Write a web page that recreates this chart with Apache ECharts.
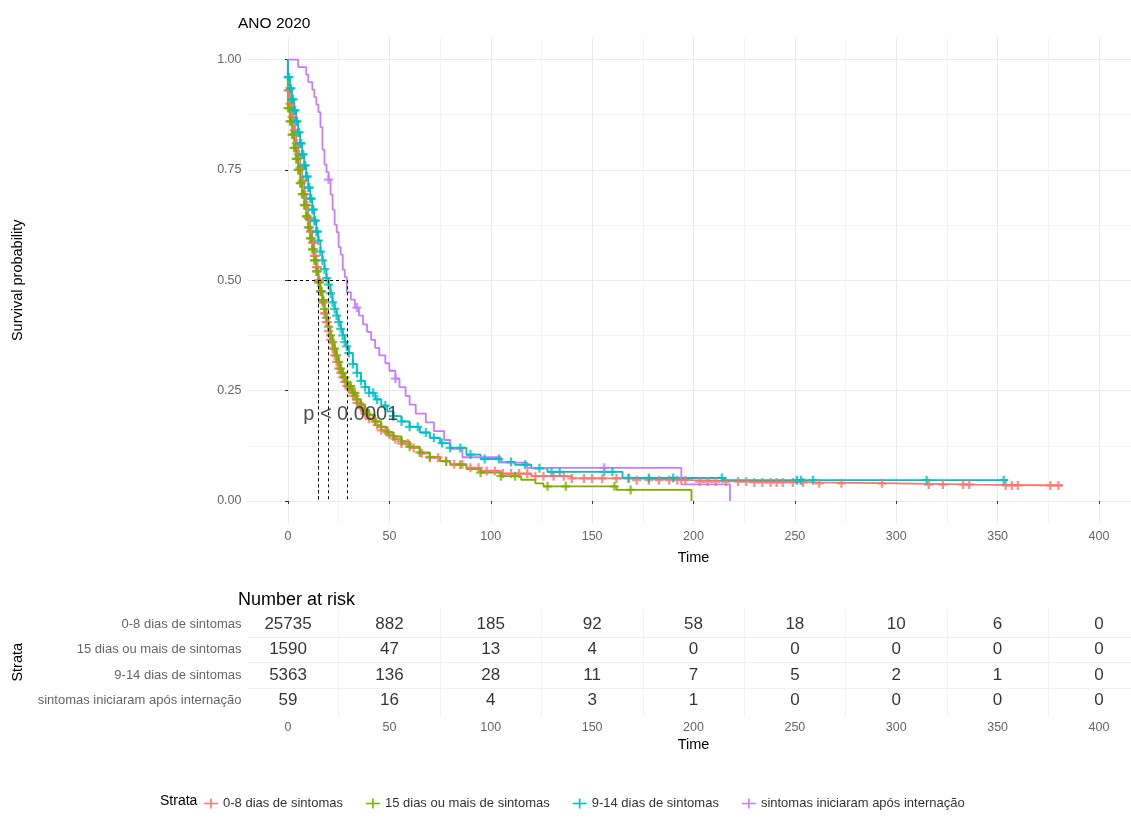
<!DOCTYPE html>
<html><head><meta charset="utf-8">
<script src="https://cdn.jsdelivr.net/npm/echarts@6/dist/echarts.min.js"></script>
<style>html,body{margin:0;padding:0;background:#fff}#c{width:1131px;height:818px}</style>
</head><body><div id="c"></div><script>
// ---------- DATA ----------
const strata = ['0-8 dias de sintomas','15 dias ou mais de sintomas','9-14 dias de sintomas','sintomas iniciaram após internação'];
const colors = ['#F8766D','#7CAE00','#00BFC4','#C77CFF'];

const redTime = [0,0,1,2,3,4,5,6,7,8,9,10,11,12,13,14,15,16,17,18,19,20,21,22,23,24,25,26,27,28,29,30,32,34,36,38,40,43,46,49,52,56,60,65,70,75,80,88,95,105,120,140,170,200,230,260,300,340,382];
const redSurv = [1,0.93,0.90,0.87,0.84,0.81,0.785,0.755,0.725,0.695,0.67,0.64,0.61,0.585,0.555,0.53,0.50,0.475,0.45,0.425,0.405,0.385,0.365,0.345,0.33,0.315,0.30,0.29,0.28,0.27,0.26,0.255,0.238,0.222,0.21,0.197,0.186,0.172,0.16,0.15,0.14,0.13,0.12,0.108,0.098,0.09,0.083,0.075,0.068,0.062,0.056,0.051,0.047,0.044,0.042,0.04,0.037,0.035,0.034];

const greenTime = [0,0,1,2,3,4,5,6,7,8,9,10,11,12,13,14,15,16,17,18,19,20,21,22,23,24,25,26,27,28,29,30,32,34,36,38,40,43,46,49,52,56,60,65,70,75,80,88,95,105,115,122,126,162,199];
const greenSurv = [1,0.89,0.86,0.83,0.80,0.775,0.75,0.72,0.695,0.67,0.645,0.62,0.595,0.57,0.545,0.52,0.495,0.475,0.455,0.435,0.415,0.395,0.375,0.36,0.345,0.33,0.315,0.30,0.29,0.28,0.27,0.26,0.245,0.23,0.218,0.206,0.195,0.18,0.168,0.156,0.146,0.135,0.123,0.11,0.10,0.09,0.082,0.072,0.064,0.056,0.048,0.04,0.033,0.025,0];

const tealTime = [0,0,1,2,3,4,5,6,7,8,9,10,11,12,13,14,15,16,17,18,19,20,21,22,23,24,25,26,27,28,29,30,32,34,36,38,40,43,46,49,52,56,60,65,70,75,80,88,95,105,112,120,128,165,215,355];
const tealSurv = [1,0.96,0.935,0.91,0.885,0.86,0.835,0.81,0.785,0.76,0.735,0.71,0.685,0.66,0.635,0.61,0.59,0.565,0.545,0.525,0.505,0.49,0.47,0.45,0.435,0.42,0.405,0.39,0.375,0.36,0.35,0.335,0.31,0.29,0.272,0.258,0.245,0.23,0.216,0.203,0.192,0.18,0.168,0.155,0.143,0.131,0.12,0.105,0.095,0.088,0.082,0.074,0.066,0.052,0.047,0.047];

const purpleTime = [0,5,9,10,12,13,14,15,16,17,18,19,20,21,22,23,24,25,26,27,28,29,31,33,35,37,39,41,43,45,48,50,53,55,58,60,63,68,72,77,80,86,105,118,194,218];
const purpleSurv = [1,0.983,0.966,0.949,0.932,0.915,0.898,0.881,0.847,0.796,0.762,0.745,0.728,0.694,0.66,0.626,0.609,0.575,0.558,0.524,0.507,0.473,0.456,0.438,0.42,0.40,0.383,0.365,0.347,0.33,0.312,0.295,0.277,0.258,0.238,0.218,0.198,0.178,0.158,0.138,0.118,0.099,0.087,0.075,0.0375,0];

// censoring times
const redCens = [0,0.5,1,1.5,2,2.5,3,3.5,4,4.5,5,5.5,6,6.5,7,7.5,8,8.5,9,9.5,10,10.5,11,11.5,12,12.5,13,13.5,14,14.5,15,15.5,16,16.5,17,17.5,18,18.5,19,19.5,20,21,22,23,24,25,26,27,28,29,30,31,32,33,34,35,36,37,38,39,40,42,44,46,48,50,53,56,59,62,66,70,74,78,82,86,90,94,98,102,106,110,114,118,122,126,131,136,140,146,150,155,162,168,172,178,183,188,192,196,203,207,211,216,222,226,230,234,238,241,244,249,254,262,273,293,316,323,333,336,354,357,360,376,380];
const greenCens = [0,0.5,1,1.5,2,2.5,3,3.5,4,4.5,5,5.5,6,6.5,7,7.5,8,8.5,9,9.5,10,10.5,11,11.5,12,12.5,13,13.5,14,14.5,15,15.5,16,16.5,17,17.5,18,19,20,21,22,23,24,25,26,27,28,29,30,31,32,33,34,36,38,40,43,46,49,52,56,60,65,70,78,85,95,105,112,128,137,161,169];
const tealCens = [0,0.5,1,1.5,2,2.5,3,3.5,4,4.5,5,5.5,6,6.5,7,7.5,8,8.5,9,9.5,10,10.5,11,11.5,12,12.5,13,13.5,14,14.5,15,16,17,18,19,20,21,22,23,24,25,26,27,28,29,30,32,34,36,38,40,42,44,48,52,56,60,64,68,72,76,80,85,90,97,104,110,117,124,130,134,156,160,168,178,190,214,251,253,259,315,353];
const purpleCens = [20,34,53,156];

const medians = [15,15,20,29];
const pvalText = 'p < 0.0001';

// risk table
const riskTimes = [0,50,100,150,200,250,300,350,400];
const risk08 = [25735,882,185,92,58,18,10,6,0];
const risk15 = [1590,47,13,4,0,0,0,0,0];
const risk914 = [5363,136,28,11,7,5,2,1,0];
const riskApos = [59,16,4,3,1,0,0,0,0];

// ---------- BUILD ----------
const FONT = "'Liberation Sans', Arial, sans-serif";
const curves = [[redTime,redSurv],[greenTime,greenSurv],[tealTime,tealSurv],[purpleTime,purpleSurv]];
const cens = [redCens,greenCens,tealCens,purpleCens];
const risks = [risk08,risk15,risk914,riskApos];
function stepAt(T,S,c){let v=S[0];for(let i=0;i<T.length;i++){if(T[i]<=c)v=S[i];else break;}return v;}
const plus = 'path://M3,0H5V3H8V5H5V8H3V5H0V3H3Z';
const legendIcon = 'path://M0,4.2H6.2V0H7.8V4.2H14V5.8H7.8V10H6.2V5.8H0Z';

const series = [];
curves.forEach((c,i)=>{
  series.push({type:'line',name:strata[i],xAxisIndex:1,yAxisIndex:1,step:'end',showSymbol:false,
    color:colors[i],lineStyle:{width:1.8,color:colors[i]},silent:true,z:2,
    data:c[0].map((t,k)=>[t,c[1][k]])});
});
cens.forEach((cs,i)=>{
  const c=curves[i];
  series.push({type:'scatter',name:strata[i],xAxisIndex:1,yAxisIndex:1,symbol:plus,symbolSize:9,
    color:colors[i],itemStyle:{color:colors[i]},silent:true,z:3,
    data:cs.map(t=>[t,stepAt(c[0],c[1],t)])});
});
const maxMed = Math.max(...medians);
const medLines = [[{coord:[0,0.5]},{coord:[maxMed,0.5]}]];
medians.forEach(m=>medLines.push([{coord:[m,0.5]},{coord:[m,0]}]));
series.push({type:'line',name:'median',xAxisIndex:1,yAxisIndex:1,data:[],silent:true,z:4,
  markLine:{symbol:'none',silent:true,animation:false,label:{show:false},
    lineStyle:{color:'#000',type:[3,3],width:1},data:medLines}});
series.push({type:'scatter',name:'pval',xAxisIndex:1,yAxisIndex:1,symbolSize:0,silent:true,z:5,
  data:[[7.5,0.195]],label:{show:true,position:'right',distance:0,formatter:pvalText,
    fontFamily:FONT,fontSize:20,color:'#222'}});
// risk table numbers
const tableData=[];
risks.forEach((r,row)=>r.forEach((n,k)=>tableData.push([riskTimes[k],row,n])));
series.push({type:'scatter',name:'risk',xAxisIndex:2,yAxisIndex:2,symbolSize:0,silent:true,
  data:tableData,label:{show:true,position:'inside',formatter:p=>String(p.value[2]),
    fontFamily:FONT,fontSize:17,color:'#000'}});

const gridLine={lineStyle:{color:'#EBEBEB',width:1}};
const minorLine={show:true,lineStyle:{color:'#F3F3F3',width:1}};
const tickLabel={color:'#666',fontFamily:FONT,fontSize:12.5};

const option={
  animation:false,
  textStyle:{fontFamily:FONT},
  title:[
    {text:'ANO 2020',left:233,top:11,textStyle:{fontFamily:FONT,fontSize:15.5,fontWeight:'normal',color:'#000'}},
    {text:'Number at risk',left:233,top:586,textStyle:{fontFamily:FONT,fontSize:18,fontWeight:'normal',color:'#000'}}
  ],
  grid:[
    {left:247.5,top:59.5,width:892,height:441.5,outerBoundsMode:'none'},
    {left:288,top:37.5,width:811,height:485.5,outerBoundsMode:'none'},
    {left:247.5,top:611.25,width:892,height:102,outerBoundsMode:'none'},
    {left:288,top:608.5,width:811,height:108,outerBoundsMode:'none'}
  ],
  xAxis:[
    {gridIndex:0,type:'value',min:-20,max:420,show:false},
    {gridIndex:1,type:'value',min:0,max:400,interval:50,
      axisLine:{show:false},axisTick:{show:true,length:3,lineStyle:{color:'#333'}},
      axisLabel:Object.assign({margin:7},tickLabel),
      splitLine:gridLine,minorTick:{show:false,splitNumber:2},minorSplitLine:minorLine,
      name:'Time',nameLocation:'middle',nameGap:27,nameTextStyle:{fontFamily:FONT,fontSize:14.5,color:'#000'}},
    {gridIndex:2,type:'value',min:-20,max:420,show:false},
    {gridIndex:3,type:'value',min:0,max:400,interval:50,
      axisLine:{show:false},axisTick:{show:false},
      axisLabel:Object.assign({margin:5},tickLabel),
      splitLine:{show:false},minorTick:{show:false,splitNumber:2},minorSplitLine:minorLine,
      name:'Time',nameLocation:'middle',nameGap:21,nameTextStyle:{fontFamily:FONT,fontSize:14.5,color:'#000'}}
  ],
  yAxis:[
    {gridIndex:0,type:'value',min:0,max:1,interval:0.25,
      axisLine:{show:false},axisTick:{show:true,length:3,lineStyle:{color:'#333'}},
      axisLabel:Object.assign({margin:6,formatter:v=>v.toFixed(2)},tickLabel),
      splitLine:gridLine,minorTick:{show:false,splitNumber:2},minorSplitLine:minorLine,
      name:'Survival probability',nameLocation:'middle',nameRotate:90,nameGap:222,
      nameTextStyle:{fontFamily:FONT,fontSize:14.5,color:'#000'}},
    {gridIndex:1,type:'value',min:-0.05,max:1.05,show:false},
    {gridIndex:2,type:'category',data:strata,inverse:true,boundaryGap:true,
      axisLine:{show:false},axisTick:{show:false},
      axisLabel:{color:'#666',fontFamily:FONT,fontSize:13,margin:6},
      splitLine:{show:true,showMinLine:false,showMaxLine:false,lineStyle:{color:'#F0F0F0',width:1}},
      name:'Strata',nameLocation:'middle',nameRotate:90,nameGap:222,
      nameTextStyle:{fontFamily:FONT,fontSize:14.5,color:'#000'}},
    {gridIndex:3,type:'value',min:0,max:1,show:false}
  ],
  legend:{left:199,top:792,itemWidth:14,itemHeight:10,itemGap:23,
    textStyle:{fontFamily:FONT,fontSize:13,color:'#333'},
    data:strata.map(s=>({name:s,icon:legendIcon}))},
  graphic:[{type:'text',left:160,top:794,style:{text:'Strata',fontFamily:FONT,fontSize:14,fill:'#000'}}],
  series:series
};
const chart=echarts.init(document.getElementById('c'),null,{renderer:'canvas'});
chart.setOption(option);
</script></body></html>
